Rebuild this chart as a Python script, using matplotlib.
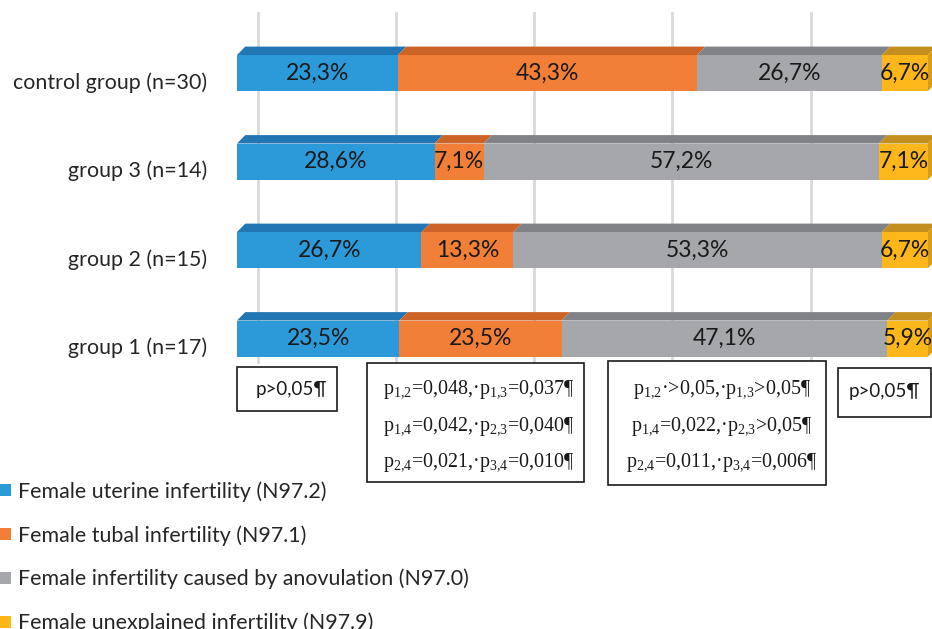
import matplotlib.pyplot as plt
from matplotlib.patches import Polygon, Rectangle

plt.rcParams['font.family'] = ['Lato', 'DejaVu Sans']
plt.rcParams['mathtext.fontset'] = 'custom'
plt.rcParams['mathtext.rm'] = 'Liberation Serif'
plt.rcParams['mathtext.it'] = 'Liberation Serif:italic'

# groups listed bottom to top
groups = ['group 1 (n=17)', 'group 2 (n=15)', 'group 3 (n=14)', 'control group (n=30)']
causes = ['Female uterine infertility (N97.2)',
          'Female tubal infertility (N97.1)',
          'Female infertility caused by anovulation (N97.0)',
          'Female unexplained infertility (N97.9)']
uterine = [23.5, 26.7, 28.6, 23.3]
tubal = [23.5, 13.3, 7.1, 43.3]
anovulation = [47.1, 53.3, 57.2, 26.7]
unexplained = [5.9, 6.7, 7.1, 6.7]

front_colors = ['#2c9ad8', '#f27f38', '#a5a7ab', '#fdb71a']
top_colors = ['#2176b3', '#cc6428', '#808287', '#c3901f']
side_color = '#d99c18'

W, H = 932, 629
fig = plt.figure(figsize=(W / 100, H / 100), dpi=100)
ax = fig.add_axes([237 / W, 0, 691 / W, 1])
ax.set_xlim(0, 100)
ax.set_ylim(-3.282, 3.825)
ax.axis('off')


def fpos(x, y):
    # pixel position (from top-left) to figure fraction
    return x / W, 1 - y / H


bar_h = 0.407
dx, dy = 1.2, 0.095  # depth of the 3d top face

# back wall grid
for g in range(0, 100, 20):
    ax.plot([g + 3.0, g + 3.0], [-0.27, 3.68], color='#d9d9d9', lw=2, zorder=0)

series = [uterine, tubal, anovulation, unexplained]
ypos = list(range(len(groups)))
lefts = [0.0] * len(groups)
for k, vals in enumerate(series):
    ax.barh(ypos, vals, left=lefts, height=bar_h, color=front_colors[k],
            label=causes[k], zorder=2)
    for i, v in enumerate(vals):
        x0, x1 = lefts[i], lefts[i] + v
        top = ypos[i] + bar_h / 2
        ax.add_patch(Polygon([(x0, top), (x1, top), (x1 + dx, top + dy), (x0 + dx, top + dy)],
                             closed=True, facecolor=top_colors[k], edgecolor='none',
                             zorder=2, clip_on=False))
        ax.text((x0 + x1) / 2, ypos[i], f'{v:.1f}%'.replace('.', ','),
                ha='center', va='center', fontsize=16.5, color='#1a1a1a', zorder=3)
    lefts = [l + v for l, v in zip(lefts, vals)]

# right side face of the stacks
for i in ypos:
    b, t = i - bar_h / 2, i + bar_h / 2
    ax.add_patch(Polygon([(lefts[i], b), (lefts[i], t), (lefts[i] + dx, t + dy), (lefts[i] + dx, b + dy)],
                         closed=True, facecolor=side_color, edgecolor='none', zorder=2, clip_on=False))

for i, name in enumerate(groups):
    ax.text(-4.3, ypos[i] - 0.105, name, ha='right', va='center', fontsize=15.4, color='#262626')

# p-value boxes under the bars
boxes = [(237, 367, 100, 44), (367, 363, 217, 119), (608, 361, 218, 124), (838, 368, 93, 49)]
for x, y, w, h in boxes:
    fx, fy = fpos(x, y + h)
    fig.patches.append(Rectangle((fx, fy), w / W, h / H, transform=fig.transFigure,
                                 facecolor='white', edgecolor='#1a1a1a', lw=1.2, zorder=5))

fig.text(*fpos(291, 389), 'p>0,05¶', ha='center', va='center', fontsize=13.5, color='#1a1a1a', zorder=6)
fig.text(*fpos(884, 392), 'p>0,05¶', ha='center', va='center', fontsize=13.5, color='#1a1a1a', zorder=6)


def sub(a):
    return r'p$_{\mathrm{' + a[0] + '{,}' + a[1] + '}}$'


lines_b = [sub('12') + '=0,048,·' + sub('13') + '=0,037¶',
           sub('14') + '=0,042,·' + sub('23') + '=0,040¶',
           sub('24') + '=0,021,·' + sub('34') + '=0,010¶']
lines_c = [sub('12') + '·>0,05,·' + sub('13') + '>0,05¶',
           sub('14') + '=0,022,·' + sub('23') + '>0,05¶',
           sub('24') + '=0,011,·' + sub('34') + '=0,006¶']
for j, (lb, lc) in enumerate(zip(lines_b, lines_c)):
    y = 390 + 36.5 * j
    fig.text(*fpos(479, y), lb, ha='center', va='center', fontsize=14.4,
             family='Liberation Serif', color='#1a1a1a', zorder=6)
    fig.text(*fpos(722, y), lc, ha='center', va='center', fontsize=14.4,
             family='Liberation Serif', color='#1a1a1a', zorder=6)

fig.legend(loc='upper left', bbox_to_anchor=fpos(0, 481), frameon=False, fontsize=15.4,
           handlelength=0.5, handleheight=0.5, handletextpad=0.35, labelspacing=1.09,
           borderpad=0, borderaxespad=0, labelcolor='#262626')

fig.savefig('out.png', dpi=100)
